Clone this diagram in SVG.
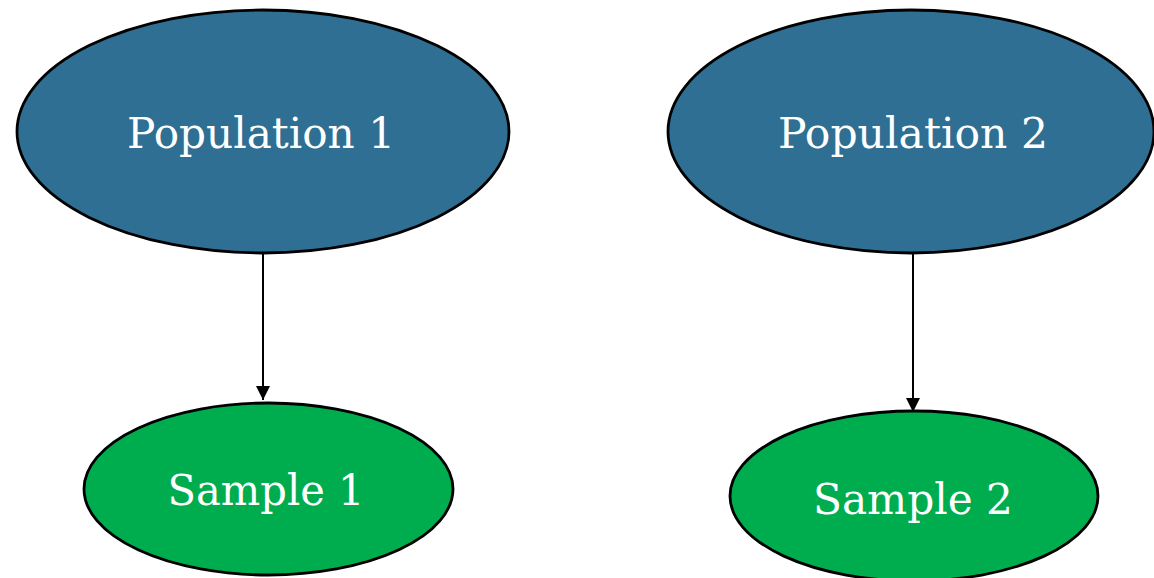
<svg xmlns="http://www.w3.org/2000/svg" width="1154" height="578" viewBox="0 0 1154 578">
<style>
.pop{fill:#2E6F93;stroke:#000;stroke-width:2.8}
.smp{fill:#00AD4E;stroke:#000;stroke-width:2.8}
.lbl{font-family:"DejaVu Serif","Liberation Serif",serif;font-size:42px;fill:#fff;text-anchor:middle}
.edge{stroke:#000;stroke-width:2;fill:none}
</style>
<defs>
<marker id="ah" markerWidth="14" markerHeight="14" refX="14" refY="7" orient="auto" markerUnits="userSpaceOnUse" viewBox="0 0 14 14">
<path d="M0,0 L14,7 L0,14 Z" fill="#000"/>
</marker>
</defs>
<g id="connectors">
<path class="edge" d="M263,253 V400" marker-end="url(#ah)"/>
<path class="edge" d="M913,253 V412" marker-end="url(#ah)"/>
</g>
<g id="population1">
<ellipse class="pop" cx="263" cy="131.5" rx="246" ry="121.5"/>
<text class="lbl" x="261" y="148" textLength="268" lengthAdjust="spacingAndGlyphs">Population 1</text>
</g>
<g id="population2">
<ellipse class="pop" cx="911" cy="131.5" rx="243" ry="121.5"/>
<text class="lbl" x="913" y="148" textLength="270" lengthAdjust="spacingAndGlyphs">Population 2</text>
</g>
<g id="sample1">
<ellipse class="smp" cx="268.5" cy="489" rx="184.5" ry="86"/>
<text class="lbl" x="266" y="505" textLength="197" lengthAdjust="spacingAndGlyphs">Sample 1</text>
</g>
<g id="sample2">
<ellipse class="smp" cx="914" cy="496" rx="184" ry="85"/>
<text class="lbl" x="913" y="514" textLength="200" lengthAdjust="spacingAndGlyphs">Sample 2</text>
</g>
</svg>
